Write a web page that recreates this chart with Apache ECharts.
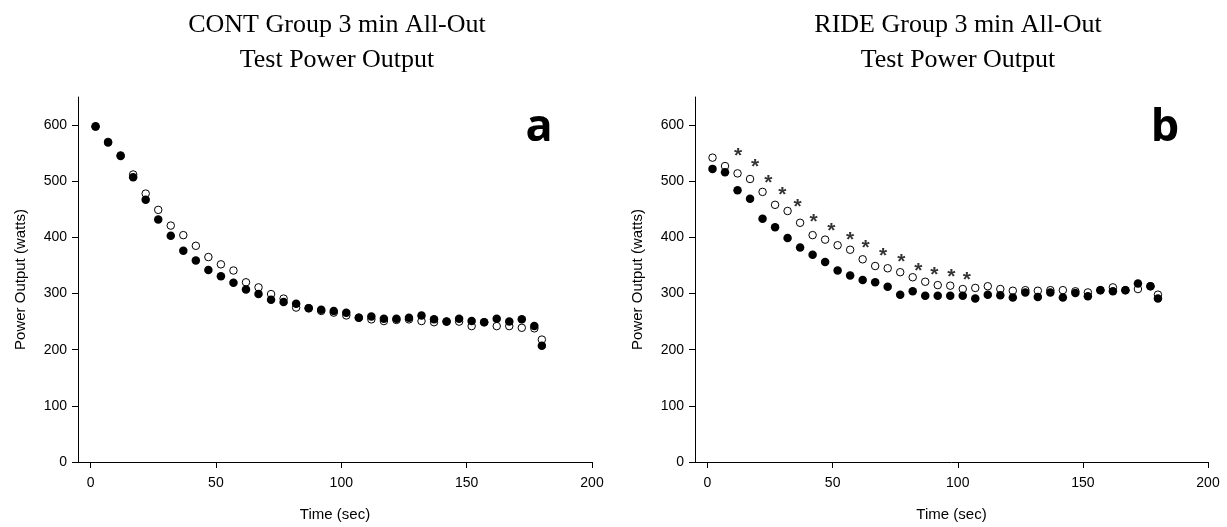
<!DOCTYPE html>
<html>
<head>
<meta charset="utf-8">
<script src="https://cdn.jsdelivr.net/npm/echarts@6/dist/echarts.min.js"></script>
<style>
  html, body { margin: 0; padding: 0; background: #fff; }
  #chart { width: 1227px; height: 527px; }
</style>
</head>
<body>
<div id="chart"></div>
<script>
// time points (sec)
var timeSec = [2, 7, 12, 17, 22, 27, 32, 37, 42, 47, 52, 57, 62, 67, 72, 77, 82, 87, 92, 97,
  102, 107, 112, 117, 122, 127, 132, 137, 142, 147, 152, 157, 162, 167, 172, 177, 180];

// CONT group (panel a)
var contFilled = [598, 569, 545, 507, 467, 432, 403, 376, 359, 342, 331, 319, 307, 299, 289, 285, 282, 274, 271, 269,
  266, 257, 259, 255, 255, 257, 261, 254, 250, 255, 251, 249, 255, 250, 254, 242, 207];
var contOpen = [597, 570, 546, 512, 478, 449, 421, 404, 385, 365, 352, 341, 320, 311, 299, 291, 275, 274, 269, 266,
  261, 257, 254, 251, 253, 254, 251, 249, 250, 250, 242, 249, 242, 242, 239, 238, 218];

// RIDE group (panel b)
var rideFilled = [522, 516, 484, 469, 433, 418, 399, 382, 369, 356, 341, 332, 324, 320, 312, 298, 304, 296, 296, 296,
  296, 291, 298, 297, 293, 302, 294, 302, 293, 301, 295, 306, 304, 306, 318, 313, 291];
var rideOpen = [542, 527, 514, 504, 481, 458, 447, 426, 404, 396, 386, 378, 361, 349, 345, 338, 329, 321, 315, 314,
  308, 310, 313, 308, 305, 306, 305, 306, 306, 304, 302, 306, 311, 306, 308, 313, 298];

// significance markers (*) on panel b
var sigTime = [12.2, 19.0, 24.3, 29.9, 36.0, 42.4, 49.5, 57.0, 63.2, 70.2, 77.5, 84.2, 90.6, 97.4, 103.6];
var sigPower = [554, 534, 506, 484, 463, 436, 420, 404, 389, 376, 365, 349, 342, 338, 332];

// ticks
var xTicks = [0, 50, 100, 150, 200];
var yTicks = [0, 100, 200, 300, 400, 500, 600];

var titles = ['CONT Group 3 min All-Out\nTest Power Output', 'RIDE Group 3 min All-Out\nTest Power Output'];
var panelTags = ['a', 'b'];

function pairs(xs, ys) {
  return xs.map(function (x, i) { return [x, ys[i]]; });
}

var chart = echarts.init(document.getElementById('chart'), null, { renderer: 'canvas' });

var axisFont = { fontFamily: 'Liberation Sans', fontSize: 14, color: '#000' };

function makeX(idx) {
  return {
    gridIndex: idx, type: 'value', min: -5, max: 200,
    name: 'Time (sec)', nameLocation: 'middle', nameGap: 45,
    nameTextStyle: { fontFamily: 'Liberation Sans', fontSize: 15, color: '#000' },
    axisLine: { lineStyle: { color: '#000', width: 1 } },
    axisTick: { customValues: xTicks, length: 6, lineStyle: { color: '#000' } },
    axisLabel: Object.assign({ customValues: xTicks, margin: 14 }, axisFont),
    splitLine: { show: false }
  };
}
function makeY(idx) {
  return {
    gridIndex: idx, type: 'value', min: 0, max: 650,
    name: 'Power Output (watts)', nameLocation: 'middle', nameGap: 50,
    nameTextStyle: { fontFamily: 'Liberation Sans', fontSize: 15, color: '#000' },
    axisLine: { onZero: false, lineStyle: { color: '#000', width: 1 } },
    axisTick: { customValues: yTicks, length: 6, lineStyle: { color: '#000' } },
    axisLabel: Object.assign({ customValues: yTicks, margin: 11 }, axisFont),
    splitLine: { show: false }
  };
}

function openSeries(idx, data) {
  return {
    type: 'scatter', xAxisIndex: idx, yAxisIndex: idx, data: data,
    symbol: 'circle', symbolSize: 7.5,
    itemStyle: { color: '#fff', borderColor: '#000', borderWidth: 1, opacity: 1 },
    emphasis: { disabled: true }, animation: false
  };
}
function filledSeries(idx, data) {
  return {
    type: 'scatter', xAxisIndex: idx, yAxisIndex: idx, data: data,
    symbol: 'circle', symbolSize: 8.5,
    itemStyle: { color: '#000', opacity: 1 },
    emphasis: { disabled: true }, animation: false
  };
}

var option = {
  backgroundColor: '#fff',
  animation: false,
  title: titles.map(function (t, i) {
    return {
      text: t, left: i === 0 ? 337 : 958, top: 8, textAlign: 'center', padding: 0,
      textStyle: { fontFamily: 'Liberation Serif', fontSize: 26, fontWeight: 'normal', color: '#000', lineHeight: 35 }
    };
  }),
  grid: [
    { left: 78, top: 97, width: 514, height: 366 },
    { left: 695, top: 97, width: 513, height: 366 }
  ],
  xAxis: [makeX(0), makeX(1)],
  yAxis: [makeY(0), makeY(1)],
  graphic: panelTags.map(function (t, i) {
    return {
      type: 'text', x: i === 0 ? 539 : 1165, y: 128,
      style: { text: t, font: 'bold 45px "Open Sans"', fill: '#000', align: 'center', verticalAlign: 'middle' }
    };
  }),
  series: [
    openSeries(0, pairs(timeSec, contOpen)),
    filledSeries(0, pairs(timeSec, contFilled)),
    openSeries(1, pairs(timeSec, rideOpen)),
    filledSeries(1, pairs(timeSec, rideFilled)),
    {
      type: 'scatter', xAxisIndex: 1, yAxisIndex: 1, data: pairs(sigTime, sigPower),
      symbol: 'circle', symbolSize: 1, itemStyle: { color: 'transparent' },
      label: {
        show: true, position: 'inside', formatter: '*', offset: [0, 5],
        fontFamily: 'Liberation Sans', fontWeight: 'bold', fontSize: 21, color: '#000'
      },
      emphasis: { disabled: true }, animation: false
    }
  ]
};
chart.setOption(option);
</script>
</body>
</html>
